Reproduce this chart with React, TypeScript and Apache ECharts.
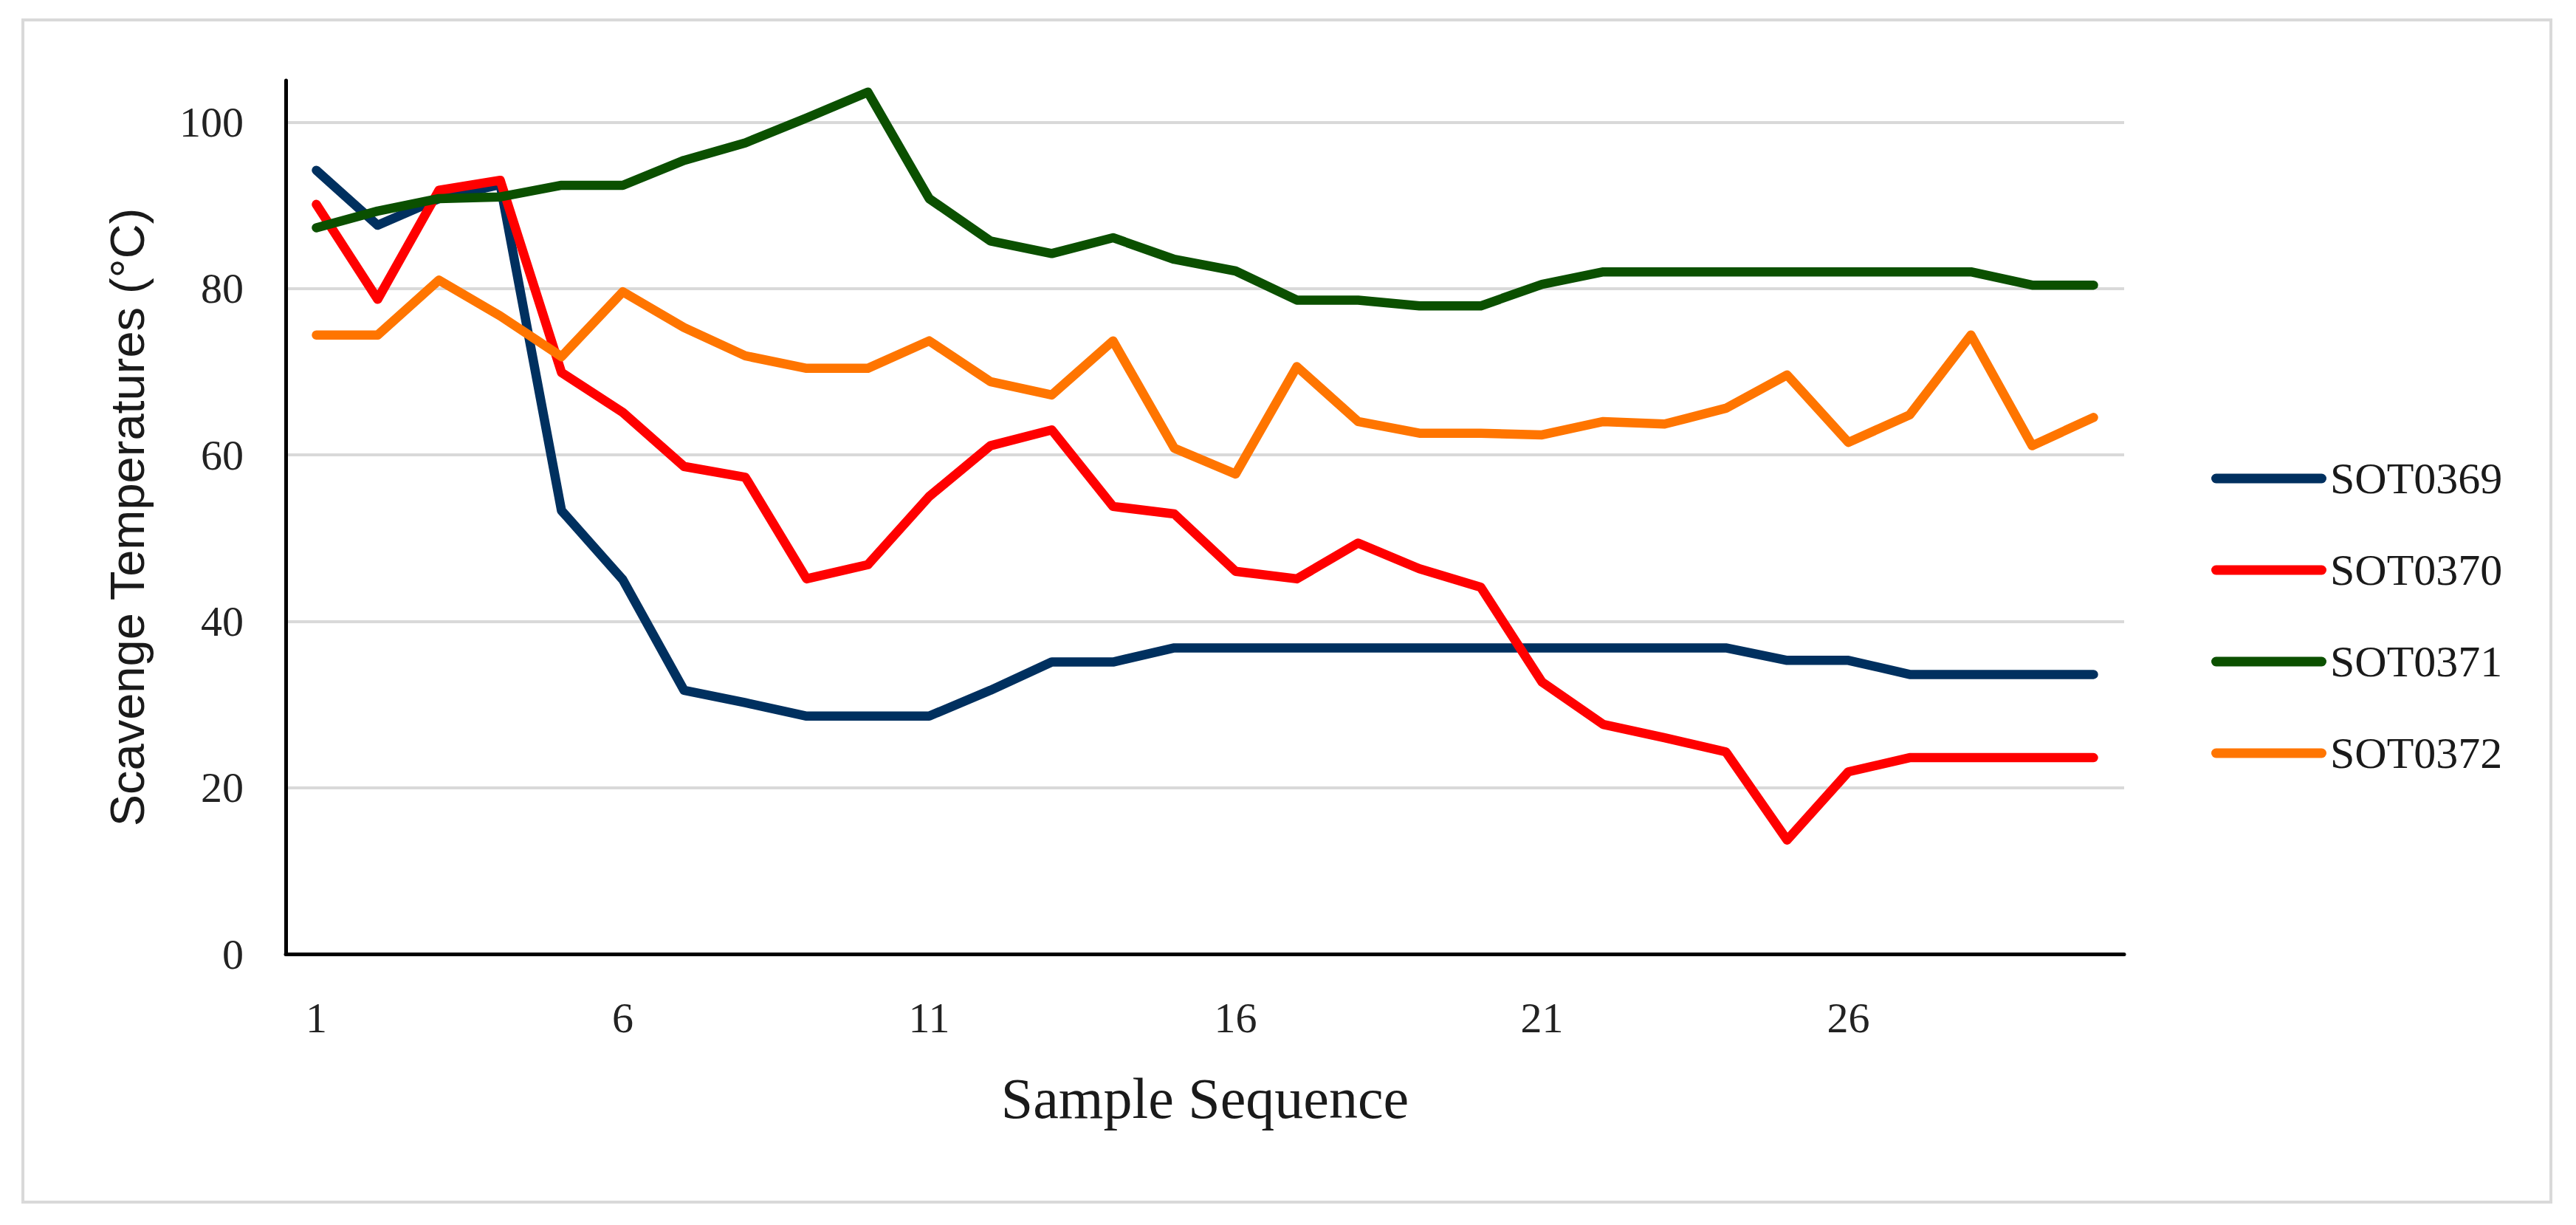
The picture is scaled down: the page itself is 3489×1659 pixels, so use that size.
import React, { useEffect, useRef } from "react";
import * as echarts from "echarts";

const categories: string[] = Array.from({ length: 30 }, (_, i) => String(i + 1));

const seriesNames = ["SOT0369", "SOT0370", "SOT0371", "SOT0372"];

const sot0369: number[] = [
  94.2, 87.6, 90.8, 92.5, 53.3, 45.0, 31.7, 30.2, 28.6, 28.6,
  28.6, 31.7, 35.1, 35.1, 36.8, 36.8, 36.8, 36.8, 36.8, 36.8,
  36.8, 36.8, 36.8, 36.8, 35.3, 35.3, 33.6, 33.6, 33.6, 33.6,
];

const sot0370: number[] = [
  90.1, 78.7, 91.8, 93.0, 69.9, 65.1, 58.6, 57.3, 45.1, 46.8,
  55.0, 61.1, 63.0, 53.8, 52.9, 46.0, 45.1, 49.4, 46.3, 44.1,
  32.7, 27.6, 26.0, 24.3, 13.7, 21.9, 23.6, 23.6, 23.6, 23.6,
];

const sot0371: number[] = [
  87.3, 89.3, 90.8, 91.0, 92.4, 92.4, 95.4, 97.5, 100.5, 103.6,
  90.8, 85.7, 84.2, 86.1, 83.5, 82.1, 78.6, 78.6, 77.9, 77.9,
  80.5, 82.0, 82.0, 82.0, 82.0, 82.0, 82.0, 82.0, 80.4, 80.4,
];

const sot0372: number[] = [
  74.4, 74.4, 81.0, 76.7, 71.8, 79.6, 75.3, 71.9, 70.4, 70.4,
  73.7, 68.8, 67.2, 73.7, 60.8, 57.7, 70.6, 64.0, 62.6, 62.6,
  62.4, 64.0, 63.7, 65.6, 69.6, 61.5, 64.8, 74.4, 61.1, 64.5,
];

const seriesData: number[][] = [sot0369, sot0370, sot0371, sot0372];
const colors = ["#00305F", "#FF0000", "#0B5000", "#FF7500"];

const W = 3489;
const H = 1659;

export default function App() {
  const ref = useRef<HTMLDivElement>(null);

  useEffect(() => {
    if (!ref.current) return;
    const chart = echarts.init(ref.current, undefined, { renderer: "svg", width: W, height: H });
    const serif = "'Liberation Serif', 'DejaVu Serif', serif";
    const sans = "'Liberation Sans', 'DejaVu Sans', sans-serif";

    const option: any = {
      animation: false,
      backgroundColor: "#ffffff",
      color: colors,
      grid: {
        left: 387,
        right: W - 2877,
        top: 109,
        bottom: H - 1292,
        containLabel: false,
        outerBoundsMode: "none",
      },
      legend: {
        orient: "vertical",
        left: 2990,
        top: 613,
        itemWidth: 156,
        itemHeight: 13,
        itemGap: 64,
        icon: "path://M6.5,0H149.5A6.5,6.5,0,0,1,149.5,13H6.5A6.5,6.5,0,0,1,6.5,0Z",
        textStyle: {
          fontFamily: serif,
          fontSize: 60,
          lineHeight: 60,
          color: "#1a1a1a",
        },
        data: seriesNames,
      },
      xAxis: {
        type: "category",
        data: categories,
        boundaryGap: true,
        name: "Sample Sequence",
        nameLocation: "middle",
        nameGap: 156,
        nameTextStyle: {
          fontFamily: serif,
          fontSize: 78,
          color: "#1a1a1a",
        },
        axisLine: { show: true, lineStyle: { color: "#000000", width: 5 } },
        axisTick: { show: false },
        axisLabel: {
          interval: 4,
          margin: 57,
          fontFamily: serif,
          fontSize: 58,
          color: "#222222",
        },
        splitLine: { show: false },
      },
      yAxis: {
        type: "value",
        min: 0,
        max: 105,
        interval: 20,
        name: "Scavenge Temperatures (°C)",
        nameLocation: "middle",
        nameRotate: 90,
        nameGap: 182,
        nameTextStyle: {
          fontFamily: sans,
          fontSize: 65,
          color: "#1a1a1a",
        },
        axisLine: { show: true, lineStyle: { color: "#000000", width: 5 } },
        axisTick: { show: false },
        axisLabel: {
          margin: 57,
          fontFamily: serif,
          fontSize: 58,
          color: "#222222",
          showMaxLabel: false,
        },
        splitLine: {
          show: true,
          showMaxLine: false,
          lineStyle: { color: "#D9D9D9", width: 4 },
        },
      },
      series: seriesNames.map((name, i) => ({
        name,
        type: "line",
        data: seriesData[i],
        showSymbol: false,
        symbol: "none",
        color: colors[i],
        itemStyle: { color: colors[i] },
        lineStyle: { color: colors[i], width: 12.5, cap: "round", join: "round" },
      })),
      graphic: [
        {
          type: "rect",
          shape: { x: 31, y: 27, width: 3424, height: 1601 },
          style: { fill: "none", stroke: "#D9D9D9", lineWidth: 4 },
          silent: true,
          z: -10,
        },
      ],
    };

    chart.setOption(option);
    return () => {
      chart.dispose();
    };
  }, []);

  return (
    <div
      ref={ref}
      style={{
        position: "fixed",
        left: 0,
        top: 0,
        width: W,
        height: H,
        background: "#ffffff",
      }}
    />
  );
}
